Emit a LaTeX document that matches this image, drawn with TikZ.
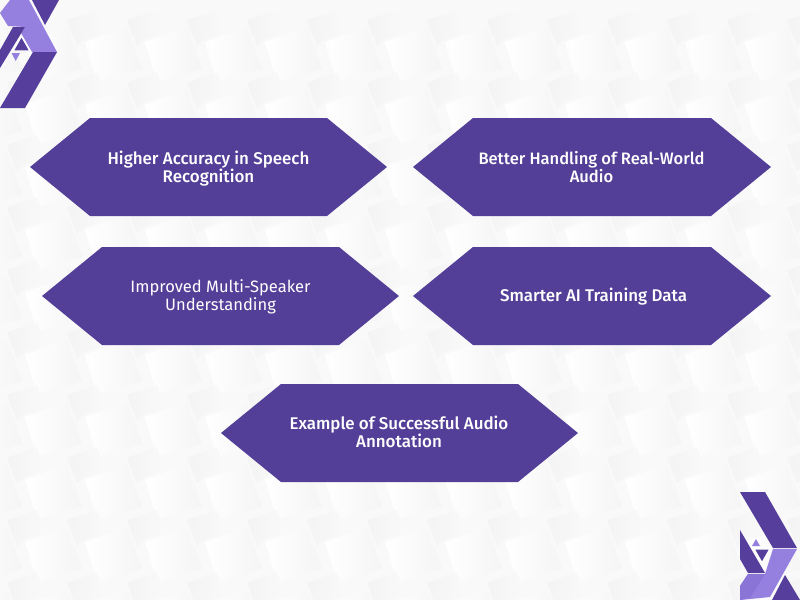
\documentclass[tikz,border=0pt]{standalone}
\usepackage{fontspec}
\setmainfont{Fira Sans Medium}
\newfontfamily\plainface{Fira Sans}
\definecolor{hexdark}{HTML}{543F98}
\definecolor{logodark}{HTML}{553E9C}
\definecolor{logolight}{HTML}{9580E0}
\definecolor{logomid}{HTML}{8A75D6}
\tikzset{
  hexshape/.style={fill=hexdark},
  hextext/.style={text=white,align=center,font=\fontsize{12.7}{13.5}\selectfont,inner sep=0pt},
  hexnarrow/.style={text=white,align=center,font=\fontsize{12.4}{13.5}\selectfont,inner sep=0pt},
  hexplain/.style={text=white,align=center,font=\plainface\fontsize{12.4}{13.5}\selectfont,inner sep=0pt},
  logoD/.style={fill=logodark},
  logoL/.style={fill=logolight},
  logoW/.style={draw=white,line width=1.1pt,fill=logodark,line join=miter}
}
\begin{document}
\begin{tikzpicture}[x=0.75pt,y=-0.75pt]
\useasboundingbox (0,0) rectangle (800,600);
\fill[white!97.8!black] (0,0) rectangle (800,600);
\begin{scope}
\clip (0,0) rectangle (800,600);
\foreach \i in {-1,...,13}{
 \foreach \j in {0,...,9}{
  \pgfmathsetmacro{\px}{25+60*\i}
  \pgfmathsetmacro{\py}{42+62.5*\j}
  \shade[left color=white!95.5!black,right color=white!97.8!black] (\px-18,\py-22) -- (\px+12,\py-32) -- (\px+20,\py-10) -- (\px,\py-3) -- (\px-8,\py+4) -- cycle;
  \shade[left color=white,right color=white!96!black] (\px,\py) -- (\px+42,\py-15) -- (\px+57,\py+27) -- (\px+12,\py+40) -- cycle;
 }
}
\end{scope}
% top-left logo
\fill[logoL] (10,0) -- (29,0) -- (57,52) -- (32,52) -- (21,33) -- (25,27) -- (8,26) -- (0,13) -- cycle;
\fill[logoD] (0,50) -- (13,27) -- (25,27) -- (0,68) -- cycle;
\fill[logoD] (32,0) -- (59,0) -- (45,25) -- cycle;
\fill[logoD] (33,52) -- (57,52) -- (25,108) -- (0,108) -- cycle;
\draw[logoW] (21.5,36) -- (13,51) -- (30,51) -- cycle;
\fill[logoL] (11.5,53) -- (20,53) -- (15.7,61) -- cycle;
% bottom-right logo
\fill[logoD] (740,492) -- (765,492) -- (797,548) -- (773,548) -- cycle;
\fill[logoD] (740,530) -- (765,573) -- (748,573) -- (740,559) -- cycle;
\fill[logoL] (773,549) -- (797,549) -- (770,597) -- (740,600) -- (740,586) -- (748,574) -- (765,574) -- cycle;
\fill[logomid] (748,574) -- (765,574) -- (750,598) -- (740,600) -- (740,586) -- cycle;
\draw[logoW] (754,549) -- (770,549) -- (762,563) -- cycle;
\fill[logoL] (752,546) -- (760,546) -- (756,539) -- cycle;
\fill[logoD] (785,575) -- (800,600) -- (772,600) -- cycle;
% hexagons
\fill[hexshape] (30,167) -- (90,118) -- (327,118) -- (387,167) -- (327,216) -- (90,216) -- cycle;
\fill[hexshape] (413,167) -- (473,118) -- (711,118) -- (771,167) -- (711,216) -- (473,216) -- cycle;
\fill[hexshape] (42,296) -- (102,247) -- (339,247) -- (399,296) -- (339,345) -- (102,345) -- cycle;
\fill[hexshape] (413,296) -- (473,247) -- (711,247) -- (771,296) -- (711,345) -- (473,345) -- cycle;
\fill[hexshape] (221,433) -- (281,384) -- (518,384) -- (578,433) -- (518,482) -- (281,482) -- cycle;
\node[hextext] (a) at (208.5,169) {Higher Accuracy in Speech\\Recognition};
\node[hexnarrow] (b) at (591.5,167) {Better Handling of Real-World\\Audio};
\node[hexplain] (c) at (220.5,297) {Improved Multi-Speaker\\Understanding};
\node[hextext] (d) at (593.5,297) {Smarter AI Training Data};
\node[hextext] (e) at (399,432) {Example of Successful Audio\\Annotation};
\end{tikzpicture}
\end{document}
